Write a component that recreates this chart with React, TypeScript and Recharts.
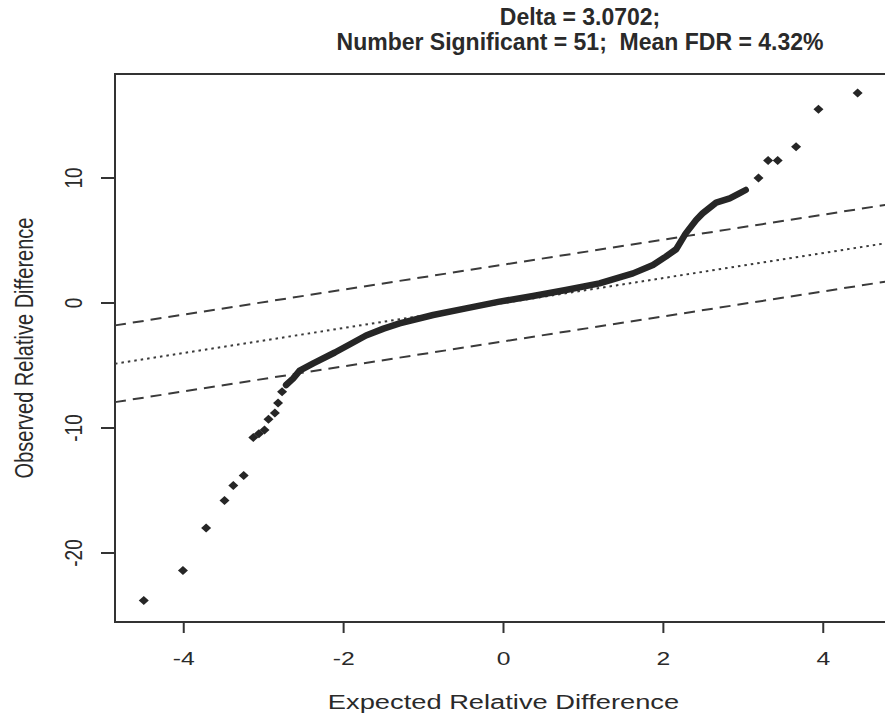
import { ComposedChart, Scatter, XAxis, YAxis, ReferenceLine, ReferenceArea } from "recharts";

const delta = 3.0702;
const xMin = -4.86;
const xMax = 4.86;
const yMin = -25.52;
const yMax = 18.32;
const xTicks = [-4, -2, 0, 2, 4];
const yTicks = [-20, -10, 0, 10];

const bandX = [-2.72, -2.63, -2.55, -2.38, -2.11, -1.92, -1.72, -1.5, -1.3, -0.88, -0.47, -0.05, 0.37, 0.78, 1.2, 1.62, 1.87, 2.03, 2.16, 2.28, 2.41, 2.49, 2.66, 2.83, 2.95, 3.03];
const bandY = [-6.56, -6.03, -5.41, -4.83, -3.96, -3.3, -2.6, -2.05, -1.63, -0.96, -0.43, 0.11, 0.56, 1.04, 1.57, 2.37, 3.04, 3.71, 4.3, 5.57, 6.64, 7.17, 8.03, 8.37, 8.77, 9.04];

// separate genes in the two tails
const tailX = [-4.5, -4.01, -3.72, -3.49, -3.38, -3.25, -3.13, -3.06, -2.99, -2.94, -2.86, -2.82, -2.77, 3.19, 3.31, 3.43, 3.66, 3.94, 4.43];
const tailY = [-23.8, -21.4, -18.0, -15.8, -14.6, -13.8, -10.75, -10.45, -10.16, -9.3, -8.8, -8.0, -7.1, 10.0, 11.4, 11.4, 12.5, 15.5, 16.8];

const ink = "#262626";
const font = "'Liberation Sans', Arial, sans-serif";

const Diamond = (props: any) => {
  const { cx, cy } = props;
  return (
    <polygon
      points={`${cx - 5},${cy} ${cx},${cy - 4.5} ${cx + 5},${cy} ${cx},${cy + 4.5}`}
      fill={ink}
    />
  );
};

const XTick = ({ x, y, payload }: any) => (
  <g transform={`translate(${x},${y + 30}) scale(1.3,1)`}>
    <text x={0} y={0} textAnchor="middle" fontSize={19} fontFamily={font} fill="#2a2a2a">
      {payload.value}
    </text>
  </g>
);

const YTick = ({ x, y, payload }: any) => (
  <g transform={`translate(${x - 17},${y}) scale(1.3,1) rotate(-90)`}>
    <text x={0} y={0} textAnchor="middle" fontSize={19} fontFamily={font} fill="#2a2a2a">
      {payload.value}
    </text>
  </g>
);

export default function App() {
  const band = bandX.map((x, i) => ({ x, y: bandY[i] }));
  const tails = tailX.map((x, i) => ({ x, y: tailY[i] }));

  return (
    <div
      style={{
        position: "absolute",
        left: 0,
        top: 0,
        width: 885,
        height: 717,
        overflow: "hidden",
        background: "#fff",
        fontFamily: font,
      }}
    >
      <div
        style={{
          position: "absolute",
          left: 580,
          top: 5,
          transform: "translateX(-50%)",
          textAlign: "center",
          fontWeight: 700,
          fontSize: 23,
          lineHeight: "25px",
          whiteSpace: "pre",
          color: "#2a2a2a",
        }}
      >
        {"Delta = 3.0702;\nNumber Significant = 51;  Mean FDR = 4.32%"}
      </div>
      <ComposedChart width={900} height={717} margin={{ top: 74, right: 8, bottom: 0, left: 0 }}>
        <XAxis
          type="number"
          dataKey="x"
          domain={[xMin, xMax]}
          ticks={xTicks}
          allowDataOverflow
          height={95}
          tickSize={11}
          axisLine={false}
          tickLine={{ stroke: "#333", strokeWidth: 2 }}
          tick={<XTick />}
          label={{
            content: (p: any) => {
              const vb = p.viewBox;
              return (
                <g transform={`translate(${vb.x + vb.width / 2},${vb.y + 87}) scale(1.3,1)`}>
                  <text textAnchor="middle" fontSize={21} fontFamily={font} fill="#2a2a2a">
                    Expected Relative Difference
                  </text>
                </g>
              );
            },
          }}
        />
        <YAxis
          type="number"
          dataKey="y"
          domain={[yMin, yMax]}
          ticks={yTicks}
          allowDataOverflow
          width={115}
          tickSize={14}
          axisLine={false}
          tickLine={{ stroke: "#333", strokeWidth: 2 }}
          tick={<YTick />}
          label={{
            content: (p: any) => {
              const vb = p.viewBox;
              return (
                <g transform={`translate(33,${vb.y + vb.height / 2}) scale(1.3,1) rotate(-90)`}>
                  <text textAnchor="middle" fontSize={20} fontFamily={font} fill="#2a2a2a">
                    Observed Relative Difference
                  </text>
                </g>
              );
            },
          }}
        />
        <ReferenceArea x1={xMin} x2={xMax} y1={yMin} y2={yMax} fill="none" stroke="#333" strokeWidth={2} />
        <ReferenceLine
          segment={[{ x: xMin, y: xMin + delta }, { x: xMax, y: xMax + delta }]}
          stroke="#3a3a3a"
          strokeWidth={2}
          strokeDasharray="11 7"
        />
        <ReferenceLine
          segment={[{ x: xMin, y: xMin }, { x: xMax, y: xMax }]}
          stroke="#3a3a3a"
          strokeWidth={2}
          strokeDasharray="2.5 4"
        />
        <ReferenceLine
          segment={[{ x: xMin, y: xMin - delta }, { x: xMax, y: xMax - delta }]}
          stroke="#3a3a3a"
          strokeWidth={2}
          strokeDasharray="11 7"
        />
        <Scatter
          data={band}
          line={{ stroke: ink, strokeWidth: 6.5, strokeLinejoin: "round", strokeLinecap: "round" }}
          shape={() => <g />}
          isAnimationActive={false}
        />
        <Scatter data={tails} shape={<Diamond />} isAnimationActive={false} />
      </ComposedChart>
    </div>
  );
}
